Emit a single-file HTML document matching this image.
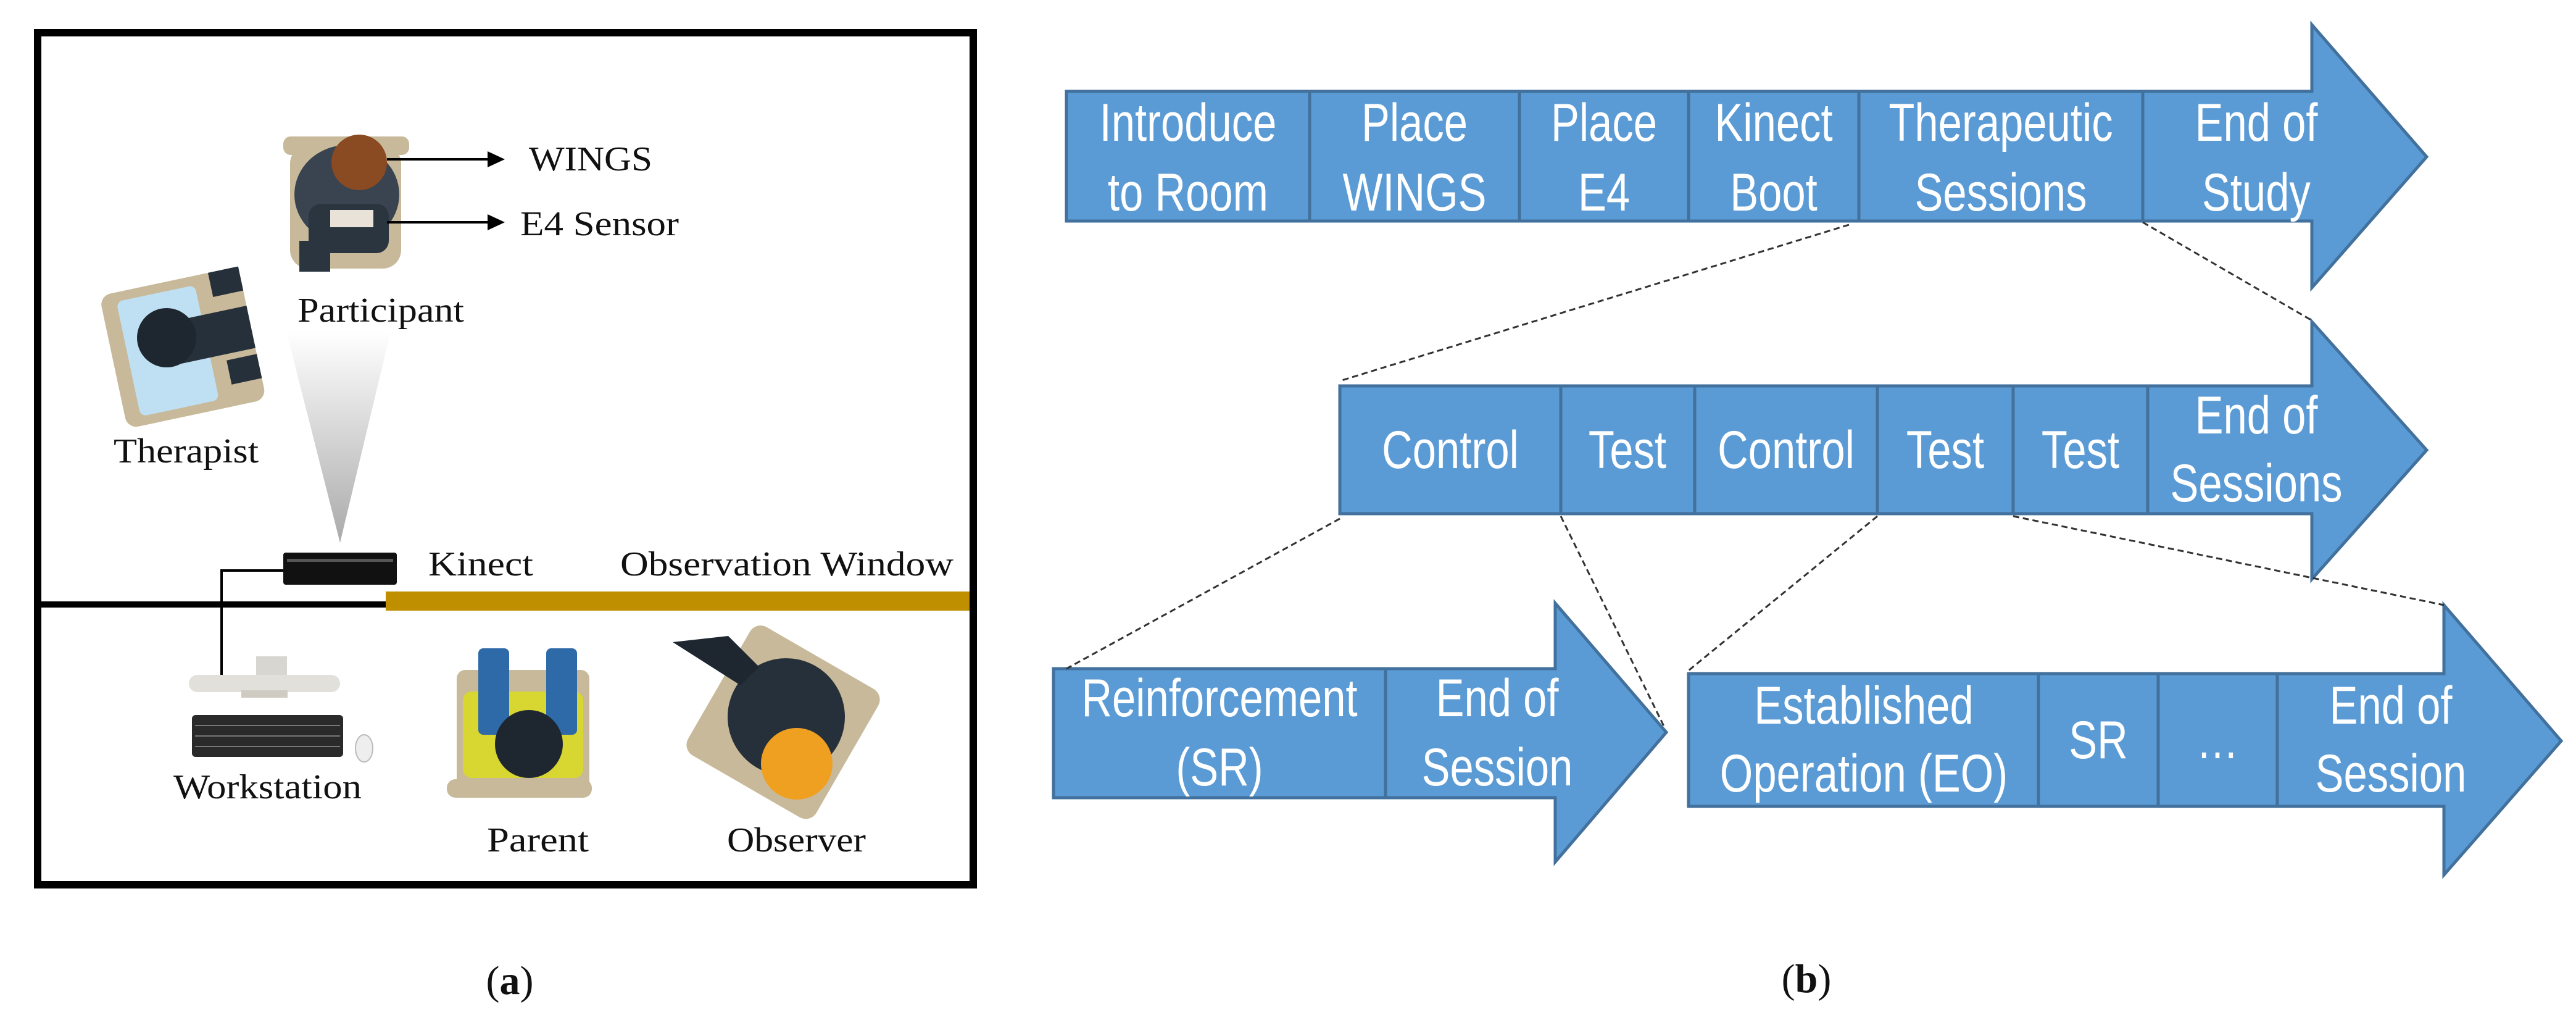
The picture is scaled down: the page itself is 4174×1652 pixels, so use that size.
<!DOCTYPE html>
<html><head><meta charset="utf-8"><style>
html,body{margin:0;padding:0;background:#fff;}
svg{display:block;}
.s{font-family:"Liberation Serif",serif;fill:#111;}
.b{font-family:"Liberation Sans",sans-serif;fill:#fff;font-size:86px;}
</style></head><body>
<svg width="4174" height="1652" viewBox="0 0 4174 1652" xmlns="http://www.w3.org/2000/svg">
<defs>
<linearGradient id="cone" x1="0" y1="0" x2="0" y2="1"><stop offset="0" stop-color="#fff"/><stop offset="1" stop-color="#aaa"/></linearGradient>
</defs>
<!-- LEFT PANEL -->
<rect x="61" y="53" width="1516" height="1380" fill="none" stroke="#000" stroke-width="12"/>
<line x1="61" y1="979" x2="630" y2="979" stroke="#000" stroke-width="10"/>
<rect x="625" y="958" width="946" height="31" fill="#c08f00"/>
<!-- cone -->
<polygon points="464,537 633,537 551,879" fill="url(#cone)"/>
<!-- participant -->
<rect x="459" y="221" width="204" height="30" rx="12" fill="#c8b99a"/>
<rect x="470" y="235" width="180" height="200" rx="30" fill="#c8b99a"/>
<ellipse cx="562" cy="315" rx="85" ry="80" fill="#3a4450"/>
<rect x="500" y="330" width="130" height="80" rx="20" fill="#2b3540"/>
<rect x="485" y="390" width="50" height="50" fill="#2b3540"/>
<rect x="535" y="340" width="70" height="28" fill="#e8e2d8"/>
<circle cx="582" cy="263" r="45" fill="#8a4a22"/>
<line x1="627" y1="258" x2="790" y2="258" stroke="#000" stroke-width="4"/>
<polygon points="790,245 818,258 790,271" fill="#000"/>
<line x1="627" y1="360" x2="790" y2="360" stroke="#000" stroke-width="4"/>
<polygon points="790,347 818,360 790,373" fill="#000"/>
<text class="s" x="857" y="276" font-size="56" textLength="200" lengthAdjust="spacingAndGlyphs">WINGS</text>
<text class="s" x="843" y="381" font-size="56" textLength="257" lengthAdjust="spacingAndGlyphs">E4 Sensor</text>
<text class="s" x="482" y="521" font-size="56" textLength="270" lengthAdjust="spacingAndGlyphs">Participant</text>
<!-- therapist -->
<g transform="rotate(-12 286 558)">
<rect x="180" y="455" width="230" height="220" rx="18" fill="#c8b99a"/>
<rect x="205" y="470" width="130" height="190" rx="10" fill="#bfe0f2"/>
<rect x="280" y="520" width="130" height="70" fill="#26303a"/>
<rect x="360" y="455" width="50" height="40" fill="#26303a"/>
<rect x="360" y="600" width="50" height="40" fill="#26303a"/>
</g>
<circle cx="270" cy="547" r="48" fill="#1e2730"/>
<text class="s" x="184" y="749" font-size="56" textLength="235" lengthAdjust="spacingAndGlyphs">Therapist</text>
<!-- kinect -->
<rect x="459" y="895" width="184" height="52" rx="4" fill="#111"/>
<rect x="465" y="905" width="172" height="5" fill="#555"/>
<polyline points="459,924 359,924 359,1095" fill="none" stroke="#000" stroke-width="4"/>
<text class="s" x="694" y="932" font-size="56" textLength="170" lengthAdjust="spacingAndGlyphs">Kinect</text>
<text class="s" x="1005" y="932" font-size="56" textLength="540" lengthAdjust="spacingAndGlyphs">Observation Window</text>
<!-- workstation -->
<rect x="415" y="1063" width="50" height="30" fill="#d8d6d0"/>
<rect x="306" y="1093" width="245" height="28" rx="14" fill="#e2e0da"/>
<rect x="391" y="1118" width="75" height="12" fill="#cfcbc2"/>
<rect x="311" y="1158" width="245" height="68" rx="6" fill="#2a2a2a"/>
<g stroke="#777" stroke-width="2">
<line x1="316" y1="1175" x2="551" y2="1175"/><line x1="316" y1="1192" x2="551" y2="1192"/><line x1="316" y1="1209" x2="551" y2="1209"/>
</g>
<ellipse cx="590" cy="1212" rx="14" ry="22" fill="#eee" stroke="#bbb" stroke-width="2"/>
<text class="s" x="281" y="1293" font-size="56" textLength="305" lengthAdjust="spacingAndGlyphs">Workstation</text>
<!-- parent -->
<rect x="740" y="1085" width="215" height="200" rx="14" fill="#c8b99a"/>
<rect x="724" y="1262" width="235" height="30" rx="14" fill="#c8b99a"/>
<rect x="750" y="1120" width="195" height="140" rx="14" fill="#d8d630"/>
<rect x="775" y="1050" width="50" height="140" rx="8" fill="#2e6aa8"/>
<rect x="885" y="1050" width="50" height="140" rx="8" fill="#2e6aa8"/>
<circle cx="857" cy="1205" r="55" fill="#1e2730"/>
<text class="s" x="789" y="1379" font-size="56" textLength="165" lengthAdjust="spacingAndGlyphs">Parent</text>
<!-- observer -->
<g transform="rotate(30 1270 1168)">
<rect x="1150" y="1050" width="240" height="240" rx="20" fill="#c8b99a"/>
<circle cx="1270" cy="1160" r="95" fill="#26303a"/>
</g>
<polygon points="1090,1040 1180,1030 1230,1080 1200,1110" fill="#1e2730"/>
<circle cx="1291" cy="1237" r="58" fill="#f0a020"/>
<text class="s" x="1178" y="1379" font-size="56" textLength="225" lengthAdjust="spacingAndGlyphs">Observer</text>
<text class="s" x="826" y="1610" font-size="66" text-anchor="middle">(<tspan font-weight="bold">a</tspan>)</text>

<!-- RIGHT PANEL -->
<g stroke="#41719c" stroke-width="5" fill="#5b9bd5">
<polygon points="1728,148 3746,148 3746,40 3932,254 3746,466 3746,358 1728,358"/>
<polygon points="2171,625 3746,625 3746,521 3932,729 3746,938 3746,832 2171,832"/>
<polygon points="1707,1083 2520,1083 2520,977 2700,1186 2520,1396 2520,1292 1707,1292"/>
<polygon points="2736,1091 3960,1091 3960,980 4150,1200 3960,1417 3960,1306 2736,1306"/>
</g>
<g stroke="#41719c" stroke-width="5">
<line x1="2122" y1="148" x2="2122" y2="358"/><line x1="2462" y1="148" x2="2462" y2="358"/><line x1="2736" y1="148" x2="2736" y2="358"/><line x1="3012" y1="148" x2="3012" y2="358"/><line x1="3472" y1="148" x2="3472" y2="358"/>
<line x1="2529" y1="625" x2="2529" y2="832"/><line x1="2746" y1="625" x2="2746" y2="832"/><line x1="3042" y1="625" x2="3042" y2="832"/><line x1="3262" y1="625" x2="3262" y2="832"/><line x1="3480" y1="625" x2="3480" y2="832"/>
<line x1="2245" y1="1083" x2="2245" y2="1292"/>
<line x1="3303" y1="1091" x2="3303" y2="1306"/><line x1="3497" y1="1091" x2="3497" y2="1306"/><line x1="3690" y1="1091" x2="3690" y2="1306"/>
</g>
<g stroke="#333" stroke-width="3" stroke-dasharray="10,6">
<line x1="2996" y1="364" x2="2171" y2="617"/>
<line x1="3472" y1="360" x2="3746" y2="519"/>
<line x1="2171" y1="840" x2="1728" y2="1083"/>
<line x1="2529" y1="836" x2="2697" y2="1178"/>
<line x1="3042" y1="836" x2="2736" y2="1086"/>
<line x1="3262" y1="836" x2="3960" y2="980"/>
</g>
<g class="b" text-anchor="middle">
<g transform="translate(1925,0) scale(0.8,1)"><text x="0" y="228">Introduce</text><text x="0" y="341">to Room</text></g>
<g transform="translate(2292,0) scale(0.8,1)"><text x="0" y="228">Place</text><text x="0" y="341">WINGS</text></g>
<g transform="translate(2599,0) scale(0.8,1)"><text x="0" y="228">Place</text><text x="0" y="341">E4</text></g>
<g transform="translate(2874,0) scale(0.8,1)"><text x="0" y="228">Kinect</text><text x="0" y="341">Boot</text></g>
<g transform="translate(3242,0) scale(0.8,1)"><text x="0" y="228">Therapeutic</text><text x="0" y="341">Sessions</text></g>
<g transform="translate(3656,0) scale(0.8,1)"><text x="0" y="228">End of</text><text x="0" y="341">Study</text></g>
<g transform="translate(2350,0) scale(0.8,1)"><text x="0" y="758">Control</text></g>
<g transform="translate(2637,0) scale(0.8,1)"><text x="0" y="758">Test</text></g>
<g transform="translate(2894,0) scale(0.8,1)"><text x="0" y="758">Control</text></g>
<g transform="translate(3152,0) scale(0.8,1)"><text x="0" y="758">Test</text></g>
<g transform="translate(3371,0) scale(0.8,1)"><text x="0" y="758">Test</text></g>
<g transform="translate(3656,0) scale(0.8,1)"><text x="0" y="702">End of</text><text x="0" y="812">Sessions</text></g>
<g transform="translate(1976,0) scale(0.8,1)"><text x="0" y="1160">Reinforcement</text><text x="0" y="1272">(SR)</text></g>
<g transform="translate(2426,0) scale(0.8,1)"><text x="0" y="1160">End of</text><text x="0" y="1272">Session</text></g>
<g transform="translate(3020,0) scale(0.8,1)"><text x="0" y="1172">Established</text><text x="0" y="1282">Operation (EO)</text></g>
<g transform="translate(3400,0) scale(0.8,1)"><text x="0" y="1228">SR</text></g>
<g transform="translate(3593,0) scale(0.8,1)"><text x="0" y="1228">…</text></g>
<g transform="translate(3874,0) scale(0.8,1)"><text x="0" y="1172">End of</text><text x="0" y="1282">Session</text></g>
</g>
<text class="s" x="2927" y="1607" font-size="66" text-anchor="middle">(<tspan font-weight="bold">b</tspan>)</text>
</svg>
</body></html>
